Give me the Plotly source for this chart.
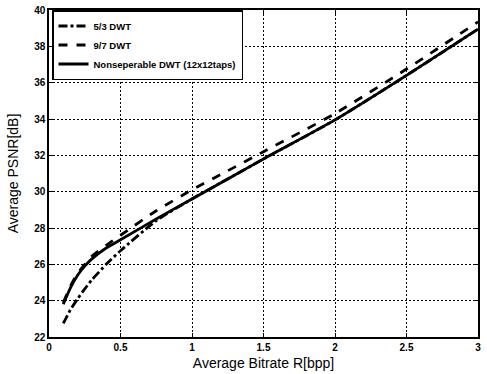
import plotly.graph_objects as go

bitrate = [0.1, 0.15, 0.2, 0.25, 0.3, 0.4, 0.5, 0.75, 1.0, 1.25, 1.5, 2.0, 2.5, 3.0]
psnr_53 = [22.75, 23.5, 24.1, 24.65, 25.15, 26.0, 26.75, 28.4, 29.6, 30.7, 31.8, 33.95, 36.4, 38.95]
psnr_97 = [23.9, 24.8, 25.5, 26.0, 26.45, 27.05, 27.6, 28.95, 30.1, 31.15, 32.2, 34.3, 36.75, 39.35]
psnr_ns = [23.8, 24.7, 25.4, 25.9, 26.3, 26.9, 27.35, 28.5, 29.6, 30.7, 31.8, 33.95, 36.4, 38.95]

names = ["5/3 DWT", "9/7 DWT", "Nonseperable DWT (12x12taps)"]
x_ticks = [0, 0.5, 1, 1.5, 2, 2.5, 3]
x_tick_text = ["0", "0.5", "1", "1.5", "2", "2.5", "3"]
y_ticks = [22, 24, 26, 28, 30, 32, 34, 36, 38, 40]

fig = go.Figure()
fig.add_trace(go.Scatter(x=bitrate, y=psnr_53, mode="lines", name=names[0],
                         line=dict(color="black", width=2.8, dash="dashdot", shape="spline", smoothing=0.6)))
fig.add_trace(go.Scatter(x=bitrate, y=psnr_97, mode="lines", name=names[1],
                         line=dict(color="black", width=2.8, dash="dash", shape="spline", smoothing=0.6)))
fig.add_trace(go.Scatter(x=bitrate, y=psnr_ns, mode="lines", name=names[2],
                         line=dict(color="black", width=2.8, shape="spline", smoothing=0.6)))

font_family = "Liberation Sans, Arial, sans-serif"
axis_common = dict(showline=True, linecolor="black", linewidth=1.5, mirror="ticks",
                   ticks="inside", ticklen=4, tickcolor="black", tickwidth=1.2,
                   showgrid=True, gridcolor="#000000", gridwidth=1.2, griddash="1.5px,2.5px",
                   zeroline=False, layer="below traces",
                   tickfont=dict(family=font_family, size=10, color="black", weight="bold"))

fig.update_layout(
    template="none",
    width=487, height=374,
    margin=dict(l=49, r=9, t=10, b=37),
    paper_bgcolor="white", plot_bgcolor="white",
    font=dict(family=font_family, color="black"),
    showlegend=True,
    legend=dict(x=0.007, y=1.0, xanchor="left", yanchor="top",
                bgcolor="white", bordercolor="black", borderwidth=1.5,
                font=dict(family=font_family, size=9.5, color="black", weight="bold"),
                tracegroupgap=0, itemwidth=30),
    xaxis=dict(range=[0, 3], tickvals=x_ticks, ticktext=x_tick_text,
               title=dict(text="Average Bitrate R[bpp]", standoff=6,
                          font=dict(family=font_family, size=14, color="black")),
               **axis_common),
    yaxis=dict(range=[22, 40], tickvals=y_ticks,
               title=dict(text="Average PSNR[dB]", standoff=12,
                          font=dict(family=font_family, size=14, color="black")),
               **axis_common),
)

fig.write_html("out.html")
